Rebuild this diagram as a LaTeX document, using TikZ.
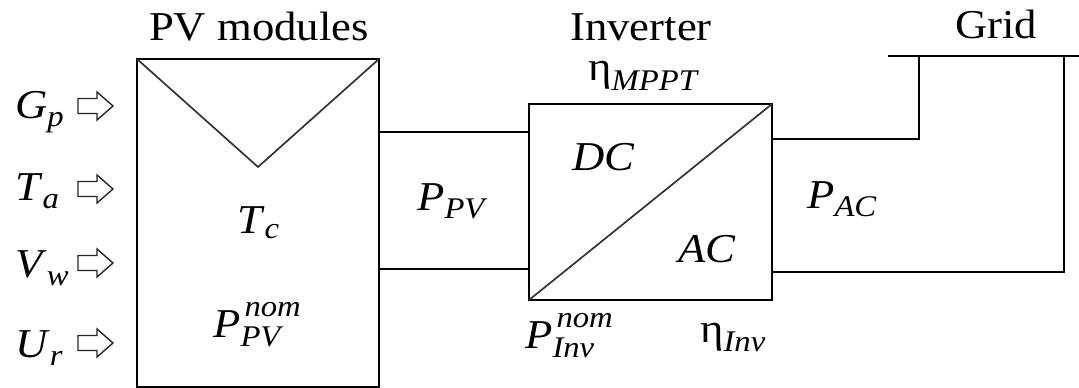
\documentclass[tikz,border=0pt]{standalone}
\usepackage{fontspec}
\setmainfont{Liberation Serif}[FakeStretch=1.09]
\newcommand\bigf{\fontsize{41}{41}\selectfont}
\newcommand\smallf{\fontsize{30}{30}\selectfont}
\newcommand\isub[3]{\textit{#1}\raisebox{-#3}{\smallf\itshape #2}}
\newcommand\etasub[2]{η\raisebox{-#2}{\smallf\itshape #1}}
\newcommand\isubsup[3]{\textit{#1}\rlap{\kern4pt\raisebox{21pt}{\smallf\itshape #2}}\raisebox{-9pt}{\smallf\itshape #3}}
\tikzset{
  txt/.style={inner sep=0pt, anchor=base west, font=\bigf},
  ttl/.style={inner sep=0pt, anchor=base, font=\bigf},
  wire/.style={line width=1.8pt, black},
  diag/.style={line width=1.7pt, black!80},
  inarrow/.style={line width=1.4pt, black!85, fill=white, line join=miter},
}
\begin{document}
\begin{tikzpicture}[x=1pt,y=-1pt]
\useasboundingbox (0,0) rectangle (1079,388);
% titles
\node[ttl] (tpv) at (259,40) {PV modules};
\node[ttl] (tinv) at (641,40) {Inverter};
\node[ttl] (tgrid) at (996,38) {Grid};
% PV box
\coordinate (pvtl) at (137,59);
\coordinate (pvtr) at (379,59);
\coordinate (pvbl) at (137,387);
\coordinate (pvbr) at (379,387);
\coordinate (pvv) at (258,167);
\draw[wire] (pvtl) -- (pvtr) -- (pvbr) -- (pvbl) -- cycle;
\draw[diag] (pvtl) -- (pvv) -- (pvtr);
% inputs
\node[txt] (gp) at (15,118) {\isub{G}{p}{8pt}};
\node[txt] (ta) at (15,200) {\isub{T}{a}{8pt}};
\node[txt] (vw) at (15,277) {\isub{V}{w}{8pt}};
\node[txt] (ur) at (15,357) {\isub{U}{r}{8pt}};
\foreach \n/\yy in {a1/106,a2/189,a3/263,a4/343}{
  \coordinate (\n) at (78,\yy);
  \draw[inarrow] (\n) ++(0,-7.5) -- ++(19,0) -- ++(0,-6.5) -- ++(16,14) -- ++(-16,14) -- ++(0,-6.5) -- ++(-19,0) -- cycle;
}
% PV labels
\node[txt] (tc) at (237,233) {\isub{T}{c}{5pt}};
\node[txt] (ppvnom) at (213,337) {\isubsup{P}{nom}{PV}};
% Inverter box
\coordinate (ivtl) at (529,104);
\coordinate (ivtr) at (772,104);
\coordinate (ivbl) at (529,300);
\coordinate (ivbr) at (772,300);
\draw[wire] (ivtl) -- (ivtr) -- (ivbr) -- (ivbl) -- cycle;
\draw[diag] (ivbl) -- (ivtr);
\node[txt] (dc) at (572,170) {\textit{DC}};
\node[txt] (ac) at (678,262) {\textit{AC}};
\node[txt] (etam) at (588,80) {\etasub{MPPT}{10pt}};
\node[txt] (pinv) at (525,348) {\isubsup{P}{nom}{Inv}};
\node[txt] (etai) at (700,342) {\etasub{Inv}{9pt}};
% DC lines
\coordinate (pvo1) at (379,132);
\coordinate (pvo2) at (379,269);
\coordinate (ivi1) at (529,132);
\coordinate (ivi2) at (529,269);
\draw[wire] (pvo1) -- (ivi1);
\draw[wire] (pvo2) -- (ivi2);
\node[txt] (ppv) at (417,210) {\isub{P}{PV}{8pt}};
% AC lines and grid
\coordinate (ivo1) at (772,139);
\coordinate (ivo2) at (772,272);
\coordinate (gj1) at (919,56);
\coordinate (gj2) at (1064,56);
\coordinate (gl) at (888,56);
\coordinate (gr) at (1079,56);
\draw[wire] (ivo1) -| (gj1);
\draw[wire] (ivo2) -| (gj2);
\draw[wire] (gl) -- (gr);
\node[txt] (pac) at (807,208) {\isub{P}{AC}{8pt}};
\end{tikzpicture}
\end{document}
